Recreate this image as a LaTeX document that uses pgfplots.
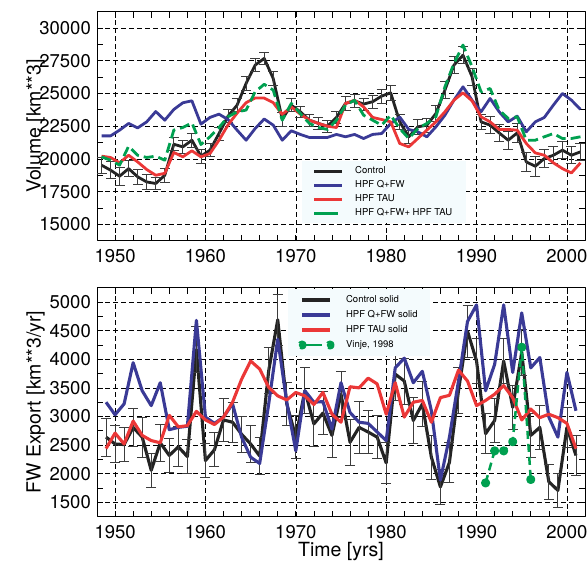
\documentclass[border=0pt]{standalone}
\usepackage{fontspec}
\setmainfont{TeX Gyre Heros}
\usepackage{pgfplots}
\usepackage{pgfplotstable}
\pgfplotsset{compat=1.18}
\definecolor{cctrl}{RGB}{35,35,35}
\definecolor{cqfw}{RGB}{58,58,150}
\definecolor{ctau}{RGB}{235,55,55}
\definecolor{cboth}{RGB}{0,160,80}
\definecolor{legbg}{RGB}{244,251,253}
\definecolor{errg}{RGB}{60,60,60}

\pgfplotstableread{
x ctrl err qfw tau both
1948.5 19520 600 21760 20210 20160
1949.5 19140 650 21760 20110 19900
1950.5 18680 700 22200 19700 19520
1951.5 19260 600 22710 20280 20970
1952.5 18630 550 22370 19770 20280
1953.5 18240 550 22830 19190 20110
1954.5 18120 450 23620 18750 20210
1955.5 18750 550 22960 18900 19900
1956.5 21120 500 23780 20490 22200
1957.5 20920 500 24290 20160 22400
1958.5 21430 550 24440 20620 22760
1959.5 20210 550 22660 20160 21100
1960.5 20670 500 23170 20410 21690
1961.5 21940 500 23420 21430 22400
1962.5 23270 500 23010 22600 23220
1963.5 24110 500 22200 23500 23600
1964.5 25770 500 21430 24300 23730
1965.5 27170 500 22320 24650 25130
1966.5 27680 450 23050 24650 25700
1967.5 26150 500 22580 24300 25260
1968.5 23040 550 21430 23400 22960
1969.5 24110 500 22150 23980 24240
1970.5 23600 450 21870 23420 23470
1971.5 22960 450 21640 22960 22710
1972.5 22710 450 21640 22710 22400
1973.5 22500 450 21640 22500 22250
1974.5 23170 450 21870 22400 22960
1975.5 24240 500 21690 24240 24110
1976.5 24440 500 21870 24490 24490
1977.5 24190 450 21560 23980 23340
1978.5 24370 500 21870 23170 22960
1979.5 24800 550 21940 23010 22580
1980.5 25050 600 22700 22830 23340
1981.5 22830 550 23200 21180 22320
1982.5 21690 500 22250 20920 21560
1983.5 22450 550 22070 21560 22320
1984.5 22580 550 21690 22200 22710
1985.5 23470 600 22450 22830 23220
1986.5 25260 650 23340 23600 25510
1987.5 27170 650 24490 24490 27300
1988.5 27930 650 25510 25050 28700
1989.5 26280 650 24490 24440 27040
1990.5 22830 600 23600 23220 25130
1991.5 22580 650 24620 22830 25380
1992.5 21990 650 23600 22250 23730
1993.5 21430 700 22830 22250 23090
1994.5 21990 700 23270 22200 23220
1995.5 19770 750 22070 21180 21430
1996.5 19440 750 22830 20460 21430
1997.5 20030 700 23170 20280 21690
1998.5 20280 650 24110 19700 21940
1999.5 20670 650 25000 19260 21560
2000.5 20280 650 24490 18930 21560
2001.5 20540 650 23780 19700 21690
}\topdata

\pgfplotstableread{
x ctrl err qfw tau
1949 2640 330 3250 2440
1950 2520 330 3030 2710
1951 2510 300 3220 2520
1952 2810 330 3940 2920
1953 2640 350 3450 2670
1954 2060 300 3190 2580
1955 2540 320 3590 2540
1956 2320 300 2770 3020
1957 2470 350 2810 2820
1958 2300 300 2830 2840
1959 4170 400 4680 3090
1960 2230 300 2990 2940
1961 2420 300 2880 2860
1962 2940 380 2990 2990
1963 2900 350 3220 3250
1964 2690 320 2640 3650
1965 2520 320 2290 3970
1966 2310 320 2180 3830
1967 3800 400 3220 3510
1968 4690 450 4350 3360
1969 3220 380 3250 3290
1970 2640 380 2400 3420
1971 3450 400 3450 3360
1972 2870 400 3250 3210
1973 3060 380 3260 3420
1974 2670 380 2780 3040
1975 3390 400 3590 2900
1976 2550 400 3070 3520
1977 2810 450 2900 3500
1978 2730 380 2880 3670
1979 2640 380 2730 3570
1980 2190 350 2580 3040
1981 3740 450 3850 3590
1982 3620 400 4020 2990
1983 2930 400 3590 3250
1984 3220 400 3790 3280
1985 2290 380 3100 2900
1986 1770 300 1890 3330
1987 2200 350 2640 3370
1988 3450 400 3620 3810
1989 4490 450 4660 3620
1990 3970 400 4950 3190
1991 2700 350 3450 3280
1992 2930 380 3910 3390
1993 3970 400 4950 3540
1994 3160 380 3770 3330
1995 4120 400 4810 2940
1996 2670 380 3850 3130
1997 2810 380 4030 2980
1998 1860 300 2990 3040
1999 1710 300 2640 2980
2000 2810 350 3770 2880
2001 2320 350 3100 2440
}\botdata

\pgfplotstableread{
x v
1991 1840
1992 2400
1993 2400
1994 2560
1995 4210
1996 1900
}\vinjedata

\pgfplotsset{
  panel/.style={
    scale only axis, width=488bp, height=229bp, anchor=south west,
    xmin=1948, xmax=2002,
    xtick={1950,1960,1970,1980,1990,2000}, minor x tick num=4,
    minor y tick num=1,
    scaled ticks=false,
    grid=major,
    major grid style={black, line width=0.6bp, dash pattern=on 5bp off 3bp},
    tick align=inside, major tick length=6bp, minor tick length=6bp,
    every tick/.style={black, line width=0.7bp},
    axis line style={black, line width=1bp},
    tick label style={font=\fontsize{18.5bp}{20bp}\selectfont},
    /pgf/number format/assume math mode=true,
    /pgf/number format/1000 sep={},
    xticklabel style={inner sep=0pt, yshift=-8bp},
    yticklabel style={inner sep=0pt, xshift=-6bp},
    every axis y label/.style={at={(axis description cs:-0.1154,0.5)}, rotate=90, anchor=base,
      font=\fontsize{19.5bp}{22bp}\selectfont},
    every axis x label/.style={at={(axis description cs:0.5,-0.1757)}, anchor=base,
      font=\fontsize{19.5bp}{22bp}\selectfont},
    legend cell align=left,
    legend image code/.code={\draw[##1, solid] (0bp,0bp) -- (28bp,0bp);},
    line join=round,
  },
  ctrlstyle/.style={cctrl, line width=#1,
    error bars/.cd, y dir=both, y explicit, error mark=-,
    error bar style={errg, line width=0.8bp, solid},
    error mark options={rotate=90, errg, line width=0.8bp, mark size=5bp, solid}},
}

\begin{document}
\begin{tikzpicture}
\useasboundingbox (0,0) rectangle (588bp,563bp);

\begin{axis}[panel, at={(97bp,322.3bp)},
  ymin=13750, ymax=31250,
  ytick={15000,17500,20000,22500,25000,27500,30000},
  ylabel={Volume [km**3]},
  legend style={at={(0.4195,0.348)}, anchor=north west, fill=legbg, draw=none,
    font=\fontsize{9.5bp}{11bp}\selectfont, inner xsep=11bp, inner ysep=3bp,
    row sep=0bp, column sep=9bp,
    nodes={inner sep=2.5bp, text height=7bp, text depth=2bp}},
]
\addplot[ctrlstyle=2.8bp] table[x=x, y=ctrl, y error=err] {\topdata};
\addlegendentry{Control}
\addplot[cqfw, line width=2.8bp] table[x=x, y=qfw] {\topdata};
\addlegendentry{HPF Q+FW}
\addplot[ctau, line width=2.8bp] table[x=x, y=tau] {\topdata};
\addlegendentry{HPF TAU}
\addplot[cboth, line width=2.8bp, dash pattern=on 10bp off 5bp,
  legend image code/.code={\draw[cboth, line width=2.8bp, solid] (0bp,0bp) -- (24bp,0bp);}]
  table[x=x, y=both] {\topdata};
\addlegendentry{HPF Q+FW+ HPF TAU}
\end{axis}

\begin{axis}[panel, at={(97bp,46.3bp)},
  ymin=1250, ymax=5250,
  ytick={1500,2000,2500,3000,3500,4000,4500,5000},
  ylabel={FW Export [km**3/yr]},
  xlabel={Time [yrs]},
  legend style={at={(0.391,0.995)}, anchor=north west, fill=legbg, draw=none,
    font=\fontsize{9.5bp}{11bp}\selectfont, inner xsep=9.5bp, inner ysep=3.5bp,
    row sep=0bp, column sep=9bp,
    nodes={inner sep=2.5bp, text height=7.5bp, text depth=2.5bp}},
]
\addplot[ctrlstyle=3.1bp] table[x=x, y=ctrl, y error=err] {\botdata};
\addlegendentry{Control solid}
\addplot[cqfw, line width=3.1bp] table[x=x, y=qfw] {\botdata};
\addlegendentry{HPF Q+FW solid}
\addplot[ctau, line width=3.1bp] table[x=x, y=tau] {\botdata};
\addlegendentry{HPF TAU solid}
\addplot[cboth, line width=2.5bp, dash pattern=on 8bp off 5bp, mark=*, mark size=3.3bp,
  mark options={solid, fill=cboth, draw=cboth},
  legend image code/.code={\draw[cboth, line width=2.5bp, solid] (0bp,0bp) -- (20bp,0bp);
    \fill[cboth] (0bp,0bp) circle (3.3bp); \fill[cboth] (28bp,0bp) circle (3.3bp);}]
  table[x=x, y=v] {\vinjedata};
\addlegendentry{Vinje, 1998}
\end{axis}
\end{tikzpicture}
\end{document}
